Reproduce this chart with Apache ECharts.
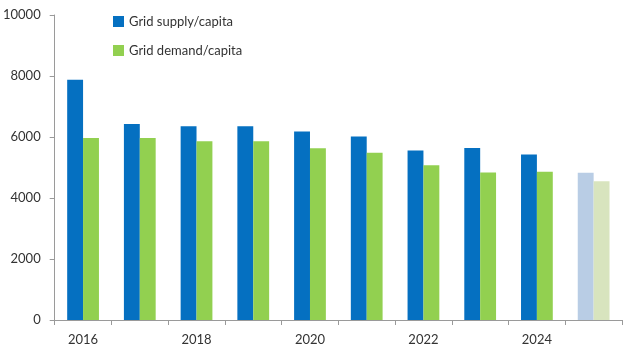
<!DOCTYPE html>
<html><head><meta charset="utf-8">
<script src="https://cdn.jsdelivr.net/npm/echarts@6/dist/echarts.min.js"></script>
<style>html,body{margin:0;padding:0;background:#fff}#c{width:632px;height:355px}</style>
</head><body><div id="c"></div>
<script>
const categories = ['2016','2017','2018','2019','2020','2021','2022','2023','2024','2025'];
const supply = [7880, 6430, 6350, 6350, 6180, 6020, 5560, 5640, 5430, 4830];
const demand = [5970, 5970, 5860, 5860, 5630, 5480, 5070, 4840, 4860, 4550];
const forecastIndex = 9;
const yTicks = [0, 2000, 4000, 6000, 8000, 10000];

const FONT = 'Lato';
const blue = '#0570C1', green = '#92D050', lightBlue = '#B9CDE5', lightGreen = '#D8E4BE';

function mk(vals, lc) {
  return vals.map((v, i) => i === forecastIndex ? {value: v, itemStyle: {color: lc}} : v);
}

const chart = echarts.init(document.getElementById('c'));
chart.setOption({
  animation: false,
  grid: {left: 54, right: 10, top: 15, bottom: 35},
  legend: {
    orient: 'vertical', left: 108, top: 10, itemGap: 16,
    icon: 'rect', itemWidth: 11, itemHeight: 11,
    textStyle: {fontFamily: FONT, fontSize: 13, color: '#333'},
    data: ['Grid supply/capita', 'Grid demand/capita']
  },
  xAxis: {
    type: 'category', data: categories, boundaryGap: true,
    axisLine: {lineStyle: {color: '#9a9a9a'}},
    axisTick: {show: true, interval: 0, length: 5, lineStyle: {color: '#9a9a9a'}},
    axisLabel: {interval: 1, margin: 13, fontFamily: FONT, fontSize: 13, color: '#333'}
  },
  yAxis: {
    type: 'value', min: yTicks[0], max: yTicks[yTicks.length - 1], interval: 2000,
    splitLine: {show: false},
    axisLine: {show: true, lineStyle: {color: '#9a9a9a'}},
    axisTick: {show: true, length: 5, lineStyle: {color: '#9a9a9a'}},
    axisLabel: {margin: 14, fontFamily: FONT, fontSize: 13, color: '#333', formatter: v => String(v)}
  },
  series: [
    {name: 'Grid supply/capita', type: 'bar', data: mk(supply, lightBlue), itemStyle: {color: blue}, barGap: '0%', barCategoryGap: '44%'},
    {name: 'Grid demand/capita', type: 'bar', data: mk(demand, lightGreen), itemStyle: {color: green}, barGap: '0%', barCategoryGap: '44%'}
  ]
});
</script></body></html>
